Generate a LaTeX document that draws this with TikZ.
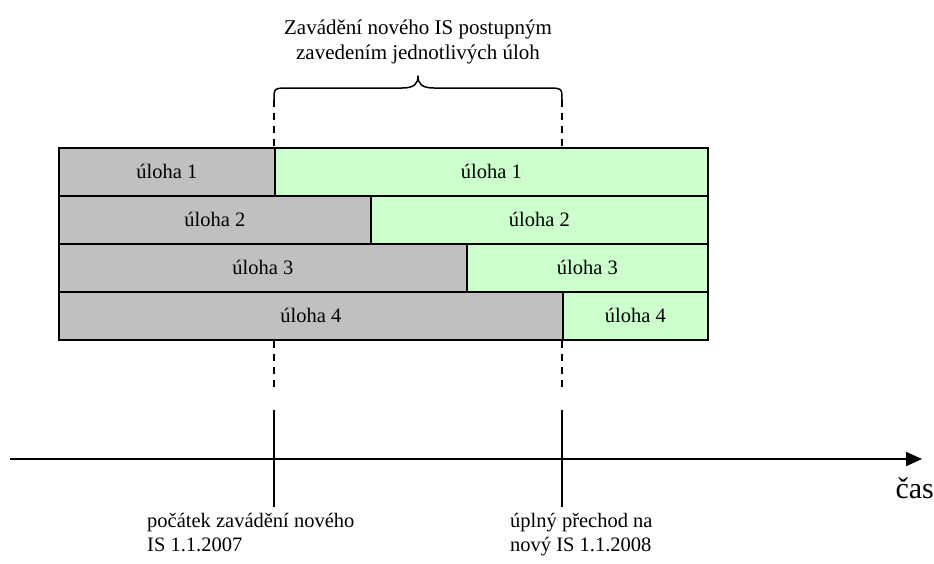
\documentclass[tikz,border=0pt]{standalone}
\usepackage{fontspec}
\setmainfont{Liberation Serif}
\usetikzlibrary{arrows.meta}
\definecolor{oldgrey}{HTML}{C0C0C0}
\definecolor{newgreen}{HTML}{CCFFCC}
\begin{document}
\begin{tikzpicture}[x=1pt,y=-1pt,
  every node/.style={font=\fontsize{20.5}{24}\selectfont, inner sep=0pt},
  task/.style={draw=black, line width=1.8pt, minimum height=48pt, anchor=north west},
  oldtask/.style={task, fill=oldgrey},
  newtask/.style={task, fill=newgreen},
  guide/.style={line width=1.5pt, dash pattern=on 7pt off 6pt},
  marker/.style={line width=1.5pt},
  axis/.style={line width=2pt, -{Triangle[length=16pt,width=14pt]}},
  bracket/.style={line width=1.5pt, line join=round}
]
\fill[white] (0,0) rectangle (934,563);
\useasboundingbox (0,0) rectangle (934,563);

% tasks: old system (grey) and new system (green)
\node[oldtask, minimum width=216pt] (g1) at (58,147) {úloha 1};
\node[newtask, minimum width=433pt] (n1) at (274,147) {úloha 1};
\node[oldtask, minimum width=312pt] (g2) at (58,195) {úloha 2};
\node[newtask, minimum width=337pt] (n2) at (370,195) {úloha 2};
\node[oldtask, minimum width=408pt] (g3) at (58,243) {úloha 3};
\node[newtask, minimum width=241pt] (n3) at (466,243) {úloha 3};
\node[oldtask, minimum width=504pt] (g4) at (58,291) {úloha 4};
\node[newtask, minimum width=145pt] (n4) at (562,291) {úloha 4};

% title and brace over the transition period
\node[align=center, font=\fontsize{21}{25}\selectfont] (title) at (418,42) {Zavádění nového IS postupným\\zavedením jednotlivých úloh};
\coordinate (bl) at (274,100);
\coordinate (br) at (562,100);
\draw[bracket] (bl) .. controls (274,88) and (274,88) .. (290,88) -- (402,88)
  .. controls (414,88) and (418,84) .. (418,76)
  .. controls (418,84) and (422,88) .. (434,88) -- (546,88)
  .. controls (562,88) and (562,88) .. (br);

% dashed guides
\coordinate (d1) at (274,388);
\coordinate (d2) at (562,388);
\draw[guide] (bl) -- (n1.north west);
\draw[guide] (br) -- (n4.north west |- n1.north);
\draw[guide] (n1.west |- g4.south) -- (d1);
\draw[guide] (n4.south west) -- (d2);

% time axis
\coordinate (axstart) at (10,459);
\coordinate (axend) at (922,459);
\draw[axis] (axstart) -- (axend);
\node[anchor=base east, font=\fontsize{30}{34}\selectfont] (cas) at (934,498) {čas};

% milestones
\coordinate (m1a) at (274,410);
\coordinate (m1b) at (274,507);
\coordinate (m2a) at (562,410);
\coordinate (m2b) at (562,507);
\draw[marker] (m1a) -- (m1b);
\draw[marker] (m2a) -- (m2b);
\node[anchor=north west, align=left] (start) at (147,513) {počátek zavádění nového\\IS 1.1.2007};
\node[anchor=north west, align=left] (finish) at (510,513) {úplný přechod na\\nový IS 1.1.2008};
\end{tikzpicture}
\end{document}
